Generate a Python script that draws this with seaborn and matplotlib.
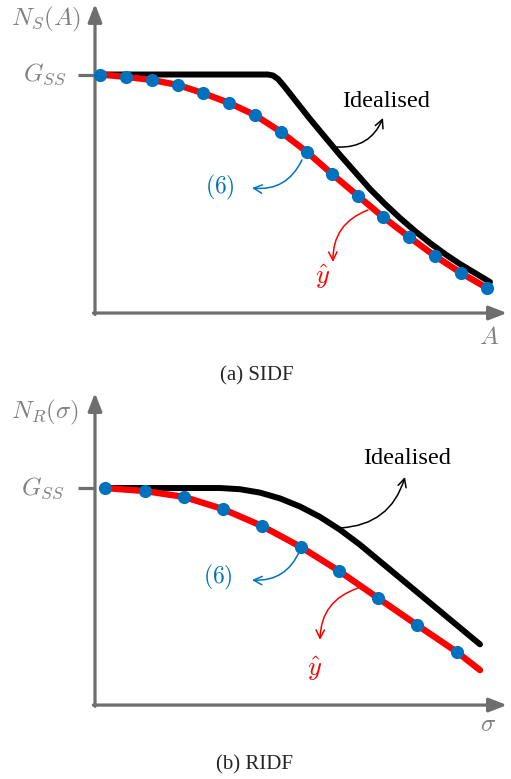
import matplotlib
matplotlib.use("Agg")
import matplotlib.pyplot as plt
import seaborn as sns
import pandas as pd

sns.set_theme(style="white")
plt.rcParams["mathtext.fontset"] = "cm"
plt.rcParams["font.family"] = ["Liberation Serif", "DejaVu Serif"]

# ---------------- data (a) SIDF ----------------
sidf_dots_x = [0.125, 0.775, 1.425, 2.075, 2.70, 3.35, 4.0, 4.65, 5.3, 5.925,
               6.575, 7.2, 7.85, 8.5, 9.15, 9.8]
sidf_dots_y = [1.0, 0.990, 0.977, 0.956, 0.922, 0.881, 0.830, 0.759, 0.675, 0.583,
               0.491, 0.403, 0.319, 0.239, 0.168, 0.105]
sidf_yhat_x = sidf_dots_x
sidf_yhat_y = sidf_dots_y
sidf_ideal_x = [0.125, 4.325, 4.45, 4.575, 4.725, 5.0, 5.375, 5.75, 6.125, 6.5,
                6.875, 7.25, 7.625, 8.0, 8.375, 8.75, 9.125, 9.5, 9.875]
sidf_ideal_y = [1.0, 1.0, 0.9958, 0.9811, 0.9518, 0.8931, 0.8134, 0.7379, 0.6625, 0.5912,
                0.5199, 0.4570, 0.3983, 0.3438, 0.2935, 0.2474, 0.2055, 0.1677, 0.1300]

# ---------------- data (b) RIDF ----------------
ridf_dots_x = [0.25, 1.25, 2.225, 3.2, 4.175, 5.15, 6.1, 7.075, 8.05, 9.05]
ridf_dots_y = [1.0, 0.986, 0.959, 0.903, 0.825, 0.728, 0.618, 0.493, 0.369, 0.244]
ridf_yhat_x = [0.25, 1.25, 2.225, 3.2, 4.175, 5.15, 6.1, 7.075, 8.05, 9.05, 9.625]
ridf_yhat_y = [1.0, 0.986, 0.959, 0.903, 0.825, 0.728, 0.618, 0.493, 0.369, 0.244, 0.161]
ridf_ideal_x = [0.25, 3.125, 3.625, 4.125, 4.625, 5.125, 5.625, 6.125, 6.625,
                7.125, 8.05, 8.875, 9.625]
ridf_ideal_y = [1.0, 1.0, 0.9945, 0.9788, 0.9521, 0.9147, 0.8668, 0.8078, 0.7387,
                0.6622, 0.5207, 0.3945, 0.2797]

captions = ["(a) SIDF", "(b) RIDF"]
ylabels = [r"$N_S(A)$", r"$N_R(\sigma)$"]
xlabels = [r"$A$", r"$\sigma$"]
gss_label = r"$G_{SS}$"

GRAY = "#6e6e6e"
TGRAY = "#808080"
BLUE = "#0072bd"
RED = "#ff0000"

W, H = 511, 779
fig = plt.figure(figsize=(W / 100, H / 100), dpi=100)


def add_axes(top_px, bot_px):
    return fig.add_axes([0, 1 - bot_px / H, 1, (bot_px - top_px) / H])


panels = [
    dict(ax=add_axes(0, 350), ylim=(-0.155, 1.3124), ytip=1.296,
         ideal=(sidf_ideal_x, sidf_ideal_y), yhat=(sidf_yhat_x, sidf_yhat_y),
         dots=(sidf_dots_x, sidf_dots_y),
         ylab=(-1.225, 1.229), gss=(-0.72, 1.0), xlab=(9.85, -0.105),
         ideal_txt=(7.275, 0.888), six_txt=(3.125, 0.528), yhat_txt=(5.7, 0.15),
         ideal_arr=((6.05, 0.696), (7.2, 0.818)),
         six_arr=((5.175, 0.642), (3.925, 0.524)),
         yhat_arr=((6.825, 0.432), (5.95, 0.214))),
    dict(ax=add_axes(385, 740), ylim=(-0.161, 1.4747), ytip=1.438,
         ideal=(ridf_ideal_x, ridf_ideal_y), yhat=(ridf_yhat_x, ridf_yhat_y),
         dots=(ridf_dots_x, ridf_dots_y),
         ylab=(-1.25, 1.350), gss=(-0.77, 1.0), xlab=(9.825, -0.092),
         ideal_txt=(7.8, 1.134), six_txt=(3.075, 0.590), yhat_txt=(5.5, 0.165),
         ideal_arr=((6.125, 0.816), (7.75, 1.051)),
         six_arr=((5.125, 0.714), (3.925, 0.576)),
         yhat_arr=((6.575, 0.539), (5.625, 0.300))),
]

for i, p in enumerate(panels):
    ax = p["ax"]
    ax.set_xlim(-2.375, 10.4)
    ax.set_ylim(*p["ylim"])
    ax.axis("off")

    # axes arrows
    ax.annotate("", xy=(10.3, 0), xytext=(-0.04, 0),
                arrowprops=dict(arrowstyle="-|>,head_length=0.9,head_width=0.35",
                                color=GRAY, lw=2.3, shrinkA=0, shrinkB=0))
    ax.annotate("", xy=(0, p["ytip"]), xytext=(0, -0.006),
                arrowprops=dict(arrowstyle="-|>,head_length=0.9,head_width=0.35",
                                color=GRAY, lw=2.3, shrinkA=0, shrinkB=0))
    ax.plot([-0.42, 0], [1.0, 1.0], color=GRAY, lw=2.3, solid_capstyle="butt")

    # curves
    df_i = pd.DataFrame({"x": p["ideal"][0], "y": p["ideal"][1]})
    df_h = pd.DataFrame({"x": p["yhat"][0], "y": p["yhat"][1]})
    df_d = pd.DataFrame({"x": p["dots"][0], "y": p["dots"][1]})
    sns.lineplot(data=df_i, x="x", y="y", ax=ax, color="black", lw=4.3,
                 sort=False, estimator=None, zorder=3)
    sns.lineplot(data=df_h, x="x", y="y", ax=ax, color=RED, lw=4.6,
                 sort=False, estimator=None, zorder=4)
    sns.scatterplot(data=df_d, x="x", y="y", ax=ax, color=BLUE, s=90,
                    linewidth=0, zorder=5)
    ax.axis("off")

    # labels
    ax.text(*p["ylab"], ylabels[i], color=TGRAY, fontsize=18, ha="center", va="center")
    ax.text(*p["gss"], gss_label, color=TGRAY, fontsize=18, ha="right", va="center")
    ax.text(*p["xlab"], xlabels[i], color=TGRAY, fontsize=18, ha="center", va="center")

    ax.text(*p["ideal_txt"], "Idealised", color="black", fontsize=17.5,
            ha="center", va="center")
    ax.text(*p["six_txt"], r"$(6)$", color=BLUE, fontsize=17, ha="center", va="center")
    ax.text(*p["yhat_txt"], r"$\hat{y}$", color=RED, fontsize=19, ha="center", va="center")

    ax.annotate("", xy=p["ideal_arr"][1], xytext=p["ideal_arr"][0],
                arrowprops=dict(arrowstyle="->,head_length=0.5,head_width=0.25",
                                color="black", lw=1.1, shrinkA=0, shrinkB=0,
                                connectionstyle="arc3,rad=0.35"), zorder=2)
    ax.annotate("", xy=p["six_arr"][1], xytext=p["six_arr"][0],
                arrowprops=dict(arrowstyle="->,head_length=0.5,head_width=0.25",
                                color=BLUE, lw=1.1, shrinkA=0, shrinkB=0,
                                connectionstyle="arc3,rad=-0.35"), zorder=2)
    ax.annotate("", xy=p["yhat_arr"][1], xytext=p["yhat_arr"][0],
                arrowprops=dict(arrowstyle="->,head_length=0.5,head_width=0.25",
                                color=RED, lw=1.1, shrinkA=0, shrinkB=0,
                                connectionstyle="arc3,rad=0.35"), zorder=2)

fig.text(257 / W, 1 - 376 / H, captions[0], fontsize=15, ha="center", va="center")
fig.text(255 / W, 1 - 765 / H, captions[1], fontsize=15, ha="center", va="center")

fig.savefig("out.png", dpi=100)
